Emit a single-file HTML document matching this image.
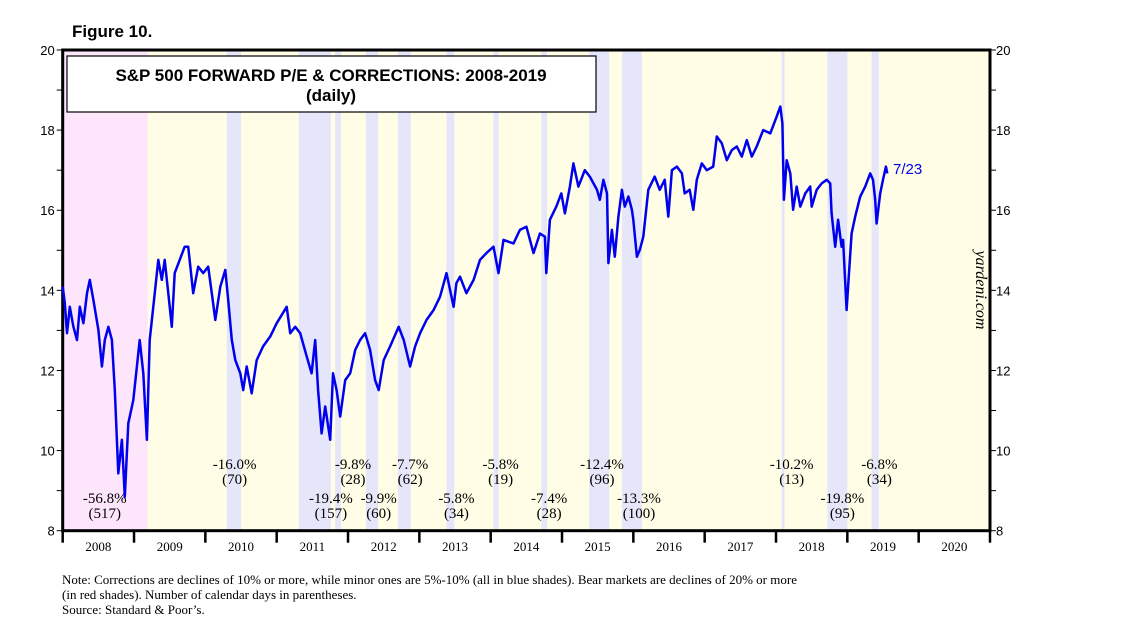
<!DOCTYPE html>
<html><head><meta charset="utf-8"><style>
body{margin:0;background:#fff;}
svg text{font-family:"Liberation Serif",serif;}
</style></head><body>
<svg id="chart" width="1138" height="632" viewBox="0 0 1138 632" xmlns="http://www.w3.org/2000/svg">
<text x="72" y="37" font-family="Liberation Sans" font-weight="bold" font-size="17" style="font-family:'Liberation Sans',sans-serif">Figure 10.</text>
<g id="shades"></g>
<g id="axes"></g>
<rect x="67" y="56" width="529" height="56" fill="#fff" stroke="#000" stroke-width="1.2"/>
<text x="331" y="81" text-anchor="middle" font-weight="bold" font-size="17" style="font-family:'Liberation Sans',sans-serif">S&amp;P 500 FORWARD P/E &amp; CORRECTIONS: 2008-2019</text>
<text x="331" y="101" text-anchor="middle" font-weight="bold" font-size="17" style="font-family:'Liberation Sans',sans-serif">(daily)</text>
<g id="annots"></g>
<path id="line" fill="none" stroke="#0000ee" stroke-width="2.5" stroke-linejoin="round"/>
<text x="893" y="174" font-size="15" fill="#0000ee" style="font-family:'Liberation Sans',sans-serif">7/23</text>
<text transform="translate(976,290) rotate(90)" text-anchor="middle" font-style="italic" font-size="16">yardeni.com</text>
<text x="62" y="584" font-size="13">Note: Corrections are declines of 10% or more, while minor ones are 5%-10% (all in blue shades).  Bear markets are declines of 20% or more</text>
<text x="62" y="599" font-size="13">(in red shades). Number of calendar days in parentheses.</text>
<text x="62" y="614" font-size="13">Source: Standard &amp; Poor’s.</text>
</svg>
<script>
const years=[2008,2009,2010,2011,2012,2013,2014,2015,2016,2017,2018,2019,2020];
const yTicks=[8,10,12,14,16,18,20];
const bearShades=[[2008.0,2009.19]];
const corrShades=[[2010.30,2010.50],[2011.31,2011.76],[2011.82,2011.90],[2012.25,2012.42],[2012.70,2012.88],[2013.38,2013.49],[2014.04,2014.11],[2014.71,2014.79],[2015.38,2015.66],[2015.84,2016.12],[2018.08,2018.12],[2018.72,2019.00],[2019.34,2019.44]];
const annDates=[2008.59,2010.41,2011.76,2012.07,2012.43,2012.87,2013.52,2014.14,2014.82,2015.56,2016.08,2018.22,2018.93,2019.45];
const annPct=["-56.8%","-16.0%","-19.4%","-9.8%","-9.9%","-7.7%","-5.8%","-5.8%","-7.4%","-12.4%","-13.3%","-10.2%","-19.8%","-6.8%"];
const annDays=["(517)","(70)","(157)","(28)","(60)","(62)","(34)","(19)","(28)","(96)","(100)","(13)","(95)","(34)"];
const annRow=[1,0,1,0,1,0,1,0,1,0,1,0,1,0];
const peDates=[2008.00,2008.03,2008.06,2008.10,2008.15,2008.20,2008.24,2008.29,2008.34,2008.38,2008.43,2008.50,2008.55,2008.59,2008.64,2008.69,2008.73,2008.78,2008.83,2008.87,2008.92,2008.99,2009.04,2009.08,2009.13,2009.18,2009.22,2009.27,2009.34,2009.39,2009.43,2009.48,2009.53,2009.57,2009.64,2009.71,2009.76,2009.83,2009.90,2009.97,2010.04,2010.09,2010.14,2010.21,2010.28,2010.32,2010.37,2010.42,2010.49,2010.53,2010.58,2010.65,2010.72,2010.81,2010.91,2011.00,2011.14,2011.19,2011.26,2011.33,2011.42,2011.49,2011.54,2011.58,2011.63,2011.68,2011.75,2011.79,2011.84,2011.89,2011.96,2012.03,2012.10,2012.17,2012.24,2012.31,2012.38,2012.43,2012.50,2012.59,2012.71,2012.78,2012.87,2012.94,2013.01,2013.10,2013.20,2013.29,2013.38,2013.48,2013.52,2013.57,2013.66,2013.76,2013.85,2013.94,2014.04,2014.11,2014.18,2014.32,2014.41,2014.50,2014.60,2014.69,2014.76,2014.78,2014.83,2014.92,2014.99,2015.04,2015.11,2015.16,2015.23,2015.32,2015.39,2015.49,2015.53,2015.58,2015.63,2015.65,2015.70,2015.74,2015.79,2015.84,2015.88,2015.93,2015.98,2016.00,2016.05,2016.09,2016.14,2016.21,2016.30,2016.37,2016.44,2016.49,2016.54,2016.61,2016.68,2016.72,2016.79,2016.84,2016.89,2016.96,2017.03,2017.12,2017.17,2017.24,2017.31,2017.38,2017.45,2017.52,2017.59,2017.66,2017.73,2017.82,2017.92,2018.01,2018.06,2018.09,2018.11,2018.15,2018.20,2018.24,2018.29,2018.34,2018.41,2018.48,2018.50,2018.57,2018.64,2018.71,2018.76,2018.78,2018.83,2018.87,2018.92,2018.94,2018.99,2019.01,2019.06,2019.11,2019.18,2019.25,2019.32,2019.36,2019.39,2019.41,2019.46,2019.50,2019.54,2019.56];
const peValues=[14.09,13.68,12.93,13.59,13.09,12.76,13.59,13.18,13.93,14.26,13.76,13.01,12.1,12.76,13.09,12.76,11.51,9.43,10.27,8.85,10.68,11.26,12.1,12.76,11.93,10.27,12.76,13.59,14.76,14.26,14.76,13.93,13.09,14.43,14.76,15.09,15.09,13.93,14.59,14.43,14.59,13.93,13.26,14.09,14.51,13.76,12.76,12.26,11.93,11.51,12.1,11.43,12.26,12.6,12.85,13.18,13.59,12.93,13.09,12.93,12.35,11.93,12.76,11.51,10.43,11.1,10.27,11.93,11.51,10.85,11.76,11.93,12.51,12.76,12.93,12.51,11.76,11.51,12.26,12.6,13.09,12.76,12.1,12.6,12.93,13.26,13.51,13.84,14.43,13.59,14.18,14.34,13.93,14.26,14.76,14.93,15.09,14.43,15.26,15.17,15.51,15.59,14.93,15.42,15.34,14.43,15.76,16.09,16.42,15.92,16.59,17.17,16.59,17.0,16.84,16.51,16.26,16.76,16.42,14.68,15.51,14.84,15.84,16.51,16.09,16.34,16.01,15.76,14.84,15.01,15.34,16.51,16.84,16.51,16.76,15.84,17.0,17.09,16.92,16.42,16.51,16.01,16.76,17.17,17.0,17.09,17.84,17.67,17.25,17.5,17.59,17.34,17.75,17.34,17.59,18.0,17.92,18.34,18.59,18.17,16.26,17.25,16.92,16.01,16.59,16.09,16.42,16.59,16.09,16.51,16.67,16.76,16.67,15.92,15.09,15.76,15.09,15.26,13.51,14.09,15.42,15.84,16.34,16.59,16.92,16.76,16.26,15.67,16.42,16.76,17.09,16.92];

const X0=62.7,X1=990,Y0=530.7,Y1=50;
const xS=t=>X0+(t-2008)*(X1-X0)/13;
const yS=v=>Y0-(v-8)*(Y0-Y1)/12;
const NS="http://www.w3.org/2000/svg";
function mk(tag,attrs,parent){const e=document.createElementNS(NS,tag);for(const k in attrs)e.setAttribute(k,attrs[k]);parent.appendChild(e);return e;}
const sh=document.getElementById('shades');
let bg=mk('rect',{x:X0,y:Y1,width:X1-X0,height:Y0-Y1,fill:'#fffde6'},sh);


bearShades.forEach(s=>{const r=mk('rect',{x:xS(s[0]),y:Y1,width:xS(s[1])-xS(s[0]),height:Y0-Y1,fill:'#fde6fb'},sh);

});
corrShades.forEach(s=>{const r=mk('rect',{x:xS(s[0]),y:Y1,width:xS(s[1])-xS(s[0]),height:Y0-Y1,fill:'#e6e6fb'},sh);

});
const ax=document.getElementById('axes');
const fr=mk('rect',{x:X0,y:Y1,width:X1-X0,height:Y0-Y1,fill:'none',stroke:'#000','stroke-width':3},ax);


for(let v=8;v<=20;v++){const y=yS(v);
 mk('line',{x1:X0-6,x2:X0,y1:y,y2:y,stroke:'#000','stroke-width':1},ax);
 mk('line',{x1:X1,x2:X1+6,y1:y,y2:y,stroke:'#000','stroke-width':1},ax);}
yTicks.forEach(v=>{const y=yS(v);
 const l=mk('text',{x:X0-8,y:y+5,'text-anchor':'end','font-size':13,style:"font-family:'Liberation Sans',sans-serif"},ax);l.textContent=v;
 
 
 const r=mk('text',{x:X1+6,y:y+5,'font-size':13,style:"font-family:'Liberation Sans',sans-serif"},ax);r.textContent=v;
 
 });
years.forEach((yr,i)=>{const x=xS(yr);
 if(i>0)mk('line',{x1:x,x2:x,y1:Y0,y2:Y0+12,stroke:'#000','stroke-width':2.5},ax);
 const t=mk('text',{x:xS(yr+0.5),y:551,'text-anchor':'middle','font-size':13},ax);t.textContent=yr;
 
 });
mk('line',{x1:X1,x2:X1,y1:Y0,y2:Y0+12,stroke:'#000','stroke-width':2.5},ax);
mk('line',{x1:X0,x2:X0,y1:Y0,y2:Y0+12,stroke:'#000','stroke-width':2.5},ax);
const an=document.getElementById('annots');
annDates.forEach((d,i)=>{const x=xS(d);const yb=annRow[i]?503:469;
 const a=mk('text',{x:x,y:yb,'text-anchor':'middle','font-size':15},an);a.textContent=annPct[i];
 
 
 const b=mk('text',{x:x,y:yb+15,'text-anchor':'middle','font-size':15},an);b.textContent=annDays[i];
 
 });
document.getElementById('line').setAttribute('d',peDates.map((d,i)=>(i?'L':'M')+xS(d).toFixed(1)+','+yS(peValues[i]).toFixed(1)).join(''));
</script>
</body></html>
